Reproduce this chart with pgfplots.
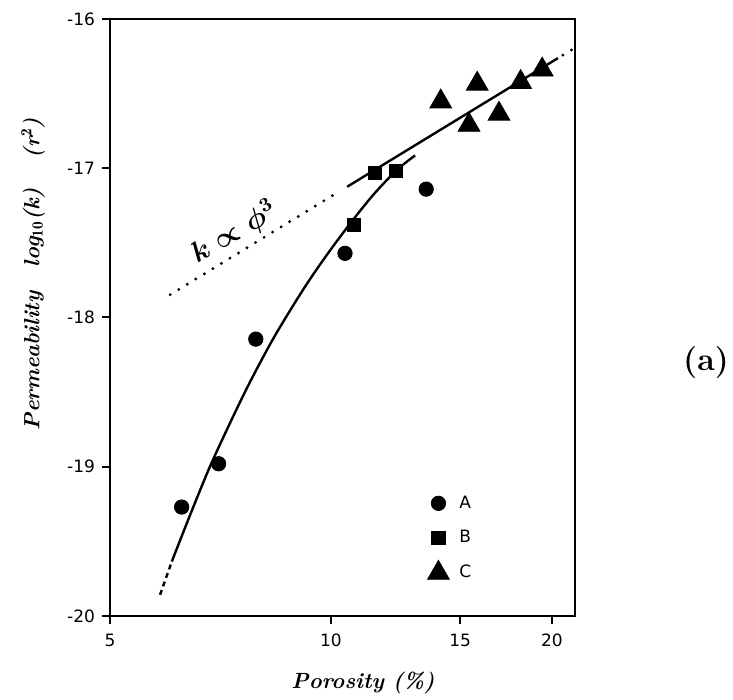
\documentclass[border=0pt]{standalone}
\usepackage{pgfplots}
\pgfplotsset{compat=1.18}
\usepackage{fontspec}
\newfontfamily\tickfont{DejaVu Sans}

\begin{document}
\begin{tikzpicture}
\useasboundingbox (-55pt,-42pt) rectangle (311.5pt,308pt);
\begin{axis}[
  at={(0pt,0pt)}, anchor=south west,
  scale only axis, width=232.5pt, height=298.5pt,
  xmode=log, xmin=5, xmax=21.5, ymin=-20, ymax=-16,
  xtick={5,10,15,20}, xticklabels={5,10,15,20},
  ytick={-20,-19,-18,-17,-16}, yticklabels={-20,-19,-18,-17,-16},
  minor xtick={},
  tick align=outside, xtick pos=bottom, ytick pos=left,
  major tick length=4pt,
  tick style={line width=1pt, black},
  axis line style={line width=1.3pt},
  ticklabel style={font=\tickfont\fontsize{8.5}{10}\selectfont},
  xticklabel style={yshift=-1.5pt},
  clip=false,
  legend cell align=left,
  legend style={draw=none, fill=none, at={(0.682,0.209)}, anchor=north west,
    inner sep=0pt, row sep=5.5pt, column sep=3pt,
    font=\tickfont\fontsize{8.5}{10}\selectfont},
]
% fitted curve through A and B, dashed where extrapolated
\addplot[forget plot, black, line width=1.2pt, dash pattern=on 2.5pt off 2pt]
  coordinates {(5.85,-19.858) (6.07,-19.635)};
\addplot[forget plot, black, line width=1.2pt, smooth]
  coordinates {(6.07,-19.635) (6.43,-19.322) (6.84,-19.000) (7.29,-18.705)
    (7.76,-18.431) (8.39,-18.121) (9.22,-17.793) (9.97,-17.551)
    (10.75,-17.337) (11.48,-17.165) (12.30,-17.011) (13.02,-16.914)};
% k ~ phi^3 trend (slope 3 on log-log)
\addplot[forget plot, black, line width=1.6pt, line cap=round, dash pattern=on 0pt off 5pt]
  coordinates {(6.04,-17.847) (10.23,-17.159)};
\addplot[forget plot, black, line width=1.2pt]
  coordinates {(10.52,-17.124) (20.38,-16.262)};
\addplot[forget plot, black, line width=1.6pt, line cap=round, dash pattern=on 0pt off 5pt]
  coordinates {(20.7,-16.242) (21.4,-16.199)};

% samples
\addplot[only marks, mark=*, mark size=3.6pt, black]
  coordinates {(6.26,-19.27) (7.03,-18.98) (7.90,-18.145) (10.45,-17.57) (13.48,-17.14)};
\addlegendentry{A}
\addplot[only marks, mark=square*, mark size=3.3pt, black]
  coordinates {(10.75,-17.38) (11.48,-17.033) (12.26,-17.016)};
\addlegendentry{B}
\addplot[only marks, mark=triangle*, mark size=6.3pt, black]
  coordinates {(14.11,-16.554) (15.82,-16.435) (15.42,-16.71) (16.94,-16.636)
    (18.13,-16.424) (19.40,-16.34)};
\addlegendentry{C}

\node[rotate=30, font=\boldmath\fontsize{14}{16}\selectfont] at (axis cs:7.38,-17.43)
  {$k \propto \phi^{3}$};
\end{axis}

\node[rotate=90, font=\bfseries\itshape\fontsize{11}{13}\selectfont] at (-38.5pt,171pt)
  {Permeability\hspace{12pt}log$_{\mathbf{10}}$(k)\hspace{15pt}(r$^{\mathbf{2}}$)};
\node[font=\bfseries\itshape\fontsize{11}{13}\selectfont] at (126.5pt,-33.5pt)
  {Porosity (\%)};
\node[font=\bfseries\fontsize{16}{19}\selectfont] at (298pt,126.5pt) {(a)};
\end{tikzpicture}
\end{document}
